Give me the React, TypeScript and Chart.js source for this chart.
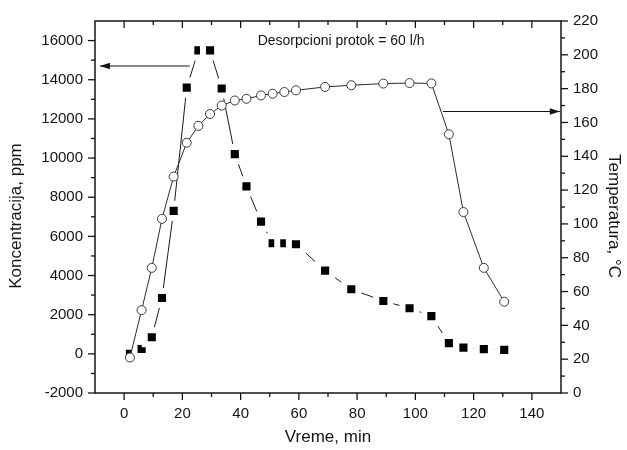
import React, { useEffect, useRef } from "react";
import { Chart, registerables } from "chart.js";

Chart.register(...registerables);

// ---- data ----
const timeMin = [2, 6, 9.5, 13, 17, 21.5, 25.5, 29.5, 33.5, 38, 42, 47, 51, 55, 59, 69, 78, 89, 98, 105.5, 111.5, 116.5, 123.5, 130.5];
const concentrationPpm = [0, 250, 850, 2850, 7300, 13600, 15500, 15500, 13550, 10200, 8550, 6750, 5650, 5650, 5600, 4250, 3300, 2700, 2330, 1930, 550, 320, 240, 200];
const temperatureC = [21, 49, 74, 103, 128, 148, 158, 165, 170, 173, 174, 176, 177, 178, 179, 181, 182, 183, 183.3, 183.1, 153, 107, 74, 54];

const xTicks = [0, 20, 40, 60, 80, 100, 120, 140];
const yLeftTicks = [-2000, 0, 2000, 4000, 6000, 8000, 10000, 12000, 14000, 16000];
const yRightTicks = [0, 20, 40, 60, 80, 100, 120, 140, 160, 180, 200, 220];

const xRange = [-10, 150];
const yLeftRange = [-2000, 17000];
const yRightRange = [0, 220];

const annotationText = "Desorpcioni protok = 60 l/h";
const annotationPos = [74.5, 15950]; // x (min), y (ppm)
const leftArrow = { y: 14700, from: 22.5, to: -8.3 }; // concentration axis
const rightArrow = { y: 166.5, from: 109.5, to: 149.6 }; // temperature axis

const xTitle = "Vreme, min";
const yLeftTitle = "Koncentracija, ppm";
const yRightTitle = "Temperatura, °C";

const FONT = "'Liberation Sans', Arial, sans-serif";
const INK = "#141414";

function midpoints(arr: number[]): number[] {
  const out: number[] = [];
  for (let i = 0; i < arr.length - 1; i++) out.push((arr[i] + arr[i + 1]) / 2);
  return out;
}

const decorPlugin = {
  id: "decor",
  afterDraw(chart: any) {
    const { ctx, chartArea: a, scales } = chart;
    const sx = scales.x, sy = scales.y, sy1 = scales.y1;
    ctx.save();
    ctx.strokeStyle = INK;
    ctx.fillStyle = INK;
    const seg = (x1: number, y1: number, x2: number, y2: number) => {
      ctx.beginPath();
      ctx.moveTo(x1, y1);
      ctx.lineTo(x2, y2);
      ctx.stroke();
    };
    // frame
    ctx.lineWidth = 1.5;
    ctx.strokeRect(a.left, a.top, a.right - a.left, a.bottom - a.top);
    ctx.lineWidth = 1.3;
    // x ticks (bottom outward, top inward)
    xTicks.forEach((v) => {
      const p = sx.getPixelForValue(v);
      seg(p, a.bottom, p, a.bottom + 7);
      seg(p, a.top, p, a.top + 7);
    });
    midpoints(xTicks).forEach((v) => {
      const p = sx.getPixelForValue(v);
      seg(p, a.bottom, p, a.bottom + 4);
      seg(p, a.top, p, a.top + 4);
    });
    // left ticks outward
    yLeftTicks.forEach((v) => {
      const p = sy.getPixelForValue(v);
      seg(a.left - 7, p, a.left, p);
    });
    midpoints(yLeftTicks).forEach((v) => {
      const p = sy.getPixelForValue(v);
      seg(a.left - 4, p, a.left, p);
    });
    // right ticks outward
    yRightTicks.forEach((v) => {
      const p = sy1.getPixelForValue(v);
      seg(a.right, p, a.right + 7, p);
    });
    midpoints(yRightTicks).forEach((v) => {
      const p = sy1.getPixelForValue(v);
      seg(a.right, p, a.right + 4, p);
    });

    // arrows
    const arrow = (x1: number, x2: number, y: number) => {
      ctx.lineWidth = 1.1;
      seg(x1, y, x2, y);
      const dir = x2 > x1 ? 1 : -1;
      ctx.beginPath();
      ctx.moveTo(x2, y);
      ctx.lineTo(x2 - dir * 10, y - 3.2);
      ctx.lineTo(x2 - dir * 10, y + 3.2);
      ctx.closePath();
      ctx.fill();
    };
    arrow(sx.getPixelForValue(leftArrow.from), sx.getPixelForValue(leftArrow.to), sy.getPixelForValue(leftArrow.y));
    arrow(sx.getPixelForValue(rightArrow.from), sx.getPixelForValue(rightArrow.to), sy1.getPixelForValue(rightArrow.y));

    // annotation text
    ctx.font = `14px ${FONT}`;
    ctx.textAlign = "center";
    ctx.textBaseline = "middle";
    ctx.fillText(annotationText, sx.getPixelForValue(annotationPos[0]), sy.getPixelForValue(annotationPos[1]));

    // axis titles
    ctx.font = `17px ${FONT}`;
    ctx.fillText(xTitle, 328, 437);
    ctx.save();
    ctx.translate(16, 216);
    ctx.rotate(-Math.PI / 2);
    ctx.fillText(yLeftTitle, 0, 0);
    ctx.restore();
    ctx.save();
    ctx.translate(614, 216);
    ctx.rotate(Math.PI / 2);
    ctx.fillText(yRightTitle, 0, 0);
    ctx.restore();
    ctx.restore();
  },
};

export default function App() {
  const canvasRef = useRef<HTMLCanvasElement | null>(null);

  useEffect(() => {
    document.body.style.margin = "0";
    const canvas = canvasRef.current;
    if (!canvas) return;
    const tickFont = { family: FONT, size: 15 };
    const plain = (v: any) => String(v);
    const chart = new Chart(canvas, {
      type: "line",
      data: {
        datasets: [
          {
            label: "Temperatura",
            data: timeMin.map((t, i) => ({ x: t, y: temperatureC[i] })),
            yAxisID: "y1",
            borderColor: "#2a2a2a",
            borderWidth: 1,
            pointStyle: "circle",
            pointRadius: 4.5,
            pointBackgroundColor: "#ffffff",
            pointBorderColor: "#3a3a3a",
            pointBorderWidth: 1,
            tension: 0,
          },
          {
            label: "Koncentracija",
            data: timeMin.map((t, i) => ({ x: t, y: concentrationPpm[i] })),
            yAxisID: "y",
            borderColor: "#1a1a1a",
            borderWidth: 1,
            pointStyle: "rect",
            pointRadius: 10,
            pointBackgroundColor: "#000000",
            pointBorderColor: "#ffffff",
            pointBorderWidth: 6,
            tension: 0,
          },
        ],
      },
      options: {
        animation: false,
        responsive: false,
        events: [],
        layout: { padding: { top: 16, left: 0, right: 0, bottom: 0 } },
        plugins: { legend: { display: false }, tooltip: { enabled: false } },
        scales: {
          x: {
            type: "linear",
            min: xRange[0],
            max: xRange[1],
            grid: { display: false, drawTicks: false },
            border: { display: false },
            afterBuildTicks: (s: any) => { s.ticks = xTicks.map((v) => ({ value: v })); },
            afterFit: (s: any) => { s.height = 57; },
            ticks: { font: tickFont, color: INK, padding: 12, maxRotation: 0, autoSkip: false, callback: plain },
          },
          y: {
            type: "linear",
            position: "left",
            min: yLeftRange[0],
            max: yLeftRange[1],
            grid: { display: false, drawTicks: false },
            border: { display: false },
            afterBuildTicks: (s: any) => { s.ticks = yLeftTicks.map((v) => ({ value: v })); },
            afterFit: (s: any) => { s.width = 95; },
            ticks: { font: tickFont, color: INK, padding: 12, autoSkip: false, callback: plain },
          },
          y1: {
            type: "linear",
            position: "right",
            min: yRightRange[0],
            max: yRightRange[1],
            grid: { display: false, drawTicks: false },
            border: { display: false },
            afterBuildTicks: (s: any) => { s.ticks = yRightTicks.map((v) => ({ value: v })); },
            afterFit: (s: any) => { s.width = 66; },
            ticks: { font: tickFont, color: INK, padding: 12, autoSkip: false, callback: plain },
          },
        },
      },
      plugins: [decorPlugin],
    } as any);
    return () => chart.destroy();
  }, []);

  return (
    <div style={{ width: 627, height: 450, background: "#ffffff" }}>
      <canvas ref={canvasRef} width={627} height={450} />
    </div>
  );
}
